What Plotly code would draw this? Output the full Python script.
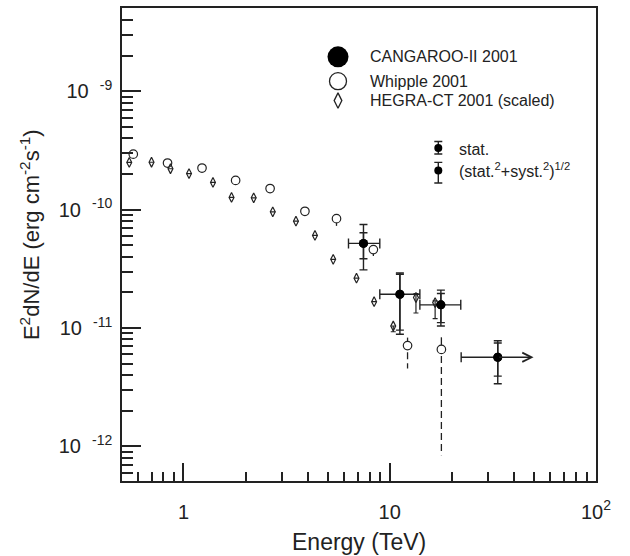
import numpy as np
import plotly.graph_objects as go

# ---------------- data ----------------
# CANGAROO-II 2001
cang_E = [7.46, 11.2, 17.7, 33.4]
cang_F = [5.19e-11, 1.93e-11, 1.57e-11, 5.66e-12]
cang_E_lo = [6.31, 8.95, 14.0, 22.2]
cang_E_hi = [8.95, 14.0, 22.1, 49.8]
cang_open_ended = [False, False, False, True]
cang_stat_hi = [6.38e-11, 2.85e-11, 1.96e-11, 7.48e-12]
cang_stat_lo = [3.85e-11, 9.6e-12, 1.11e-11, 3.92e-12]
cang_tot_hi = [7.50e-11, 2.92e-11, 2.09e-11, 7.81e-12]
cang_tot_lo = [3.10e-11, 8.87e-12, 1.04e-11, 3.38e-12]

# Whipple 2001
whip_E = [0.571, 0.837, 1.23, 1.79, 2.63, 3.88, 5.52, 8.33, 12.2, 17.8]
whip_F = [2.95e-10, 2.48e-10, 2.25e-10, 1.77e-10, 1.51e-10, 9.7e-11, 8.4e-11, 4.6e-11, 7.1e-12, 6.6e-12]
whip_hi = [2.95e-10, 2.48e-10, 2.25e-10, 1.77e-10, 1.51e-10, 9.7e-11, 9.2e-11, 5.0e-11, 8.3e-12, 8.35e-12]
whip_lo = [2.95e-10, 2.48e-10, 2.25e-10, 1.77e-10, 1.51e-10, 9.7e-11, 7.3e-11, 4.06e-11, 4.55e-12, 8.4e-13]
whip_lo_dashed = [False, False, False, False, False, False, False, False, True, True]

# HEGRA-CT 2001 (scaled)
hegra_E = [0.546, 0.700, 0.865, 1.064, 1.39, 1.71, 2.19, 2.71, 3.51, 4.34, 5.32, 6.90, 8.40, 10.4, 13.4, 16.6]
hegra_F = [2.51e-10, 2.52e-10, 2.22e-10, 2.02e-10, 1.70e-10, 1.27e-10, 1.26e-10, 9.6e-11, 8.0e-11,
           6.06e-11, 3.81e-11, 2.64e-11, 1.67e-11, 1.04e-11, 1.81e-11, 1.64e-11]
hegra_hi = list(hegra_F)
hegra_lo = list(hegra_F)
hegra_hi[14] = 1.95e-11
hegra_lo[14] = 1.34e-11
hegra_hi[15] = 1.70e-11
hegra_lo[15] = 1.20e-11
hegra_lo[13] = 0.93e-11

# axis ticks
x_tickvals = [1, 10, 100]
x_ticktext = ["1", "10", "10<sup>2</sup>"]
y_tickvals = [1e-12, 1e-11, 1e-10, 1e-9]
y_ticktext = ["10  <sup>-12</sup>", "10  <sup>-11</sup>", "10  <sup>-10</sup>", "10  <sup>-9</sup>"]

legend_labels = ["CANGAROO-II 2001", "Whipple 2001", "HEGRA-CT 2001 (scaled)"]
err_labels = ["stat.", "(stat.<sup>2</sup>+syst.<sup>2</sup>)<sup>1/2</sup>"]

# ---------------- styles ----------------
INK = "#222222"
FONT = "Liberation Sans, Arial, sans-serif"

def arr(a):
    return np.array(a, dtype=float)

def err_or_none(d):
    return [v if v > 0 else None for v in d]

fig = go.Figure()

# Whipple dashed lower error lines
for e, f, lo, dashed in zip(whip_E, whip_F, whip_lo, whip_lo_dashed):
    if dashed:
        fig.add_trace(go.Scatter(x=[e, e], y=[f * 0.88, lo], mode="lines",
                                 line=dict(color=INK, width=1.3, dash="7px,4px"),
                                 showlegend=False, hoverinfo="skip"))

# Whipple solid error bars + markers
wF = arr(whip_F)
w_plus = arr(whip_hi) - wF
w_minus = np.where(whip_lo_dashed, 0.0, wF - arr(whip_lo))
fig.add_trace(go.Scatter(
    x=whip_E, y=whip_F, mode="markers",
    marker=dict(symbol="circle", size=8.5, color="white", line=dict(color=INK, width=1.2)),
    error_y=dict(type="data", symmetric=False, array=err_or_none(w_plus),
                 arrayminus=err_or_none(w_minus), color=INK, thickness=1.3, width=0),
    showlegend=False))

# HEGRA diamonds
hF = arr(hegra_F)
fig.add_trace(go.Scatter(
    x=hegra_E, y=hegra_F, mode="markers",
    marker=dict(symbol="diamond-tall-open", size=7, color=INK, line=dict(color=INK, width=1.2)),
    error_y=dict(type="data", symmetric=False, array=err_or_none(arr(hegra_hi) - hF),
                 arrayminus=err_or_none(hF - arr(hegra_lo)), color=INK, thickness=1.2, width=2.5),
    showlegend=False))

# CANGAROO: total errors (with energy bins)
cE = arr(cang_E)
cF = arr(cang_F)
ex_plus = np.where(cang_open_ended, 0.0, arr(cang_E_hi) - cE)
ex_minus = cE - arr(cang_E_lo)
fig.add_trace(go.Scatter(
    x=cang_E, y=cang_F, mode="markers",
    marker=dict(symbol="circle", size=9, color="black"),
    error_y=dict(type="data", symmetric=False, array=arr(cang_tot_hi) - cF,
                 arrayminus=cF - arr(cang_tot_lo), color=INK, thickness=1.4, width=4),
    error_x=dict(type="data", symmetric=False, array=err_or_none(ex_plus),
                 arrayminus=ex_minus, color=INK, thickness=1.4, width=5),
    showlegend=False))
# CANGAROO: statistical errors
fig.add_trace(go.Scatter(
    x=cang_E, y=cang_F, mode="markers",
    marker=dict(symbol="circle", size=9, color="black"),
    error_y=dict(type="data", symmetric=False, array=arr(cang_stat_hi) - cF,
                 arrayminus=cF - arr(cang_stat_lo), color=INK, thickness=1.4, width=4),
    showlegend=False))

annotations = []
# open-ended energy bin -> arrow
for e, f, ehi, oe in zip(cang_E, cang_F, cang_E_hi, cang_open_ended):
    if oe:
        annotations.append(dict(x=np.log10(ehi), y=np.log10(f), ax=np.log10(e), ay=np.log10(f),
                                xref="x", yref="y", axref="x", ayref="y", text="",
                                showarrow=True, arrowhead=5, arrowsize=1.3, arrowwidth=1.4,
                                arrowcolor=INK, standoff=0, startstandoff=0))

# ---------------- legend (drawn on a hidden overlay axis in plot-fraction units) ----------------
leg_x = 0.4557
leg_y = [0.8968, 0.8453, 0.8042]
leg_text_x = 0.519
fig.add_trace(go.Scatter(x=[leg_x], y=[leg_y[0]], xaxis="x2", yaxis="y2", mode="markers",
                         marker=dict(symbol="circle", size=21, color="black"), showlegend=False))
fig.add_trace(go.Scatter(x=[leg_x], y=[leg_y[1]], xaxis="x2", yaxis="y2", mode="markers",
                         marker=dict(symbol="circle", size=17, color="white", line=dict(color=INK, width=1.3)),
                         showlegend=False))
fig.add_trace(go.Scatter(x=[leg_x], y=[leg_y[2]], xaxis="x2", yaxis="y2", mode="markers",
                         marker=dict(symbol="diamond-tall-open", size=11, color=INK, line=dict(width=1.3)),
                         showlegend=False))
for yy, txt in zip(leg_y, legend_labels):
    annotations.append(dict(x=leg_text_x, y=yy, xref="paper", yref="paper", text=txt, showarrow=False,
                            xanchor="left", yanchor="middle", font=dict(family=FONT, size=16, color=INK)))

err_x = 0.6673
err_y = [0.7038, 0.6562]
err_plus = [0.0141, 0.0175]
err_minus = [0.0126, 0.0261]
err_text_x = 0.7068
err_text_y = [0.700, 0.657]
fig.add_trace(go.Scatter(x=[err_x, err_x], y=err_y, xaxis="x2", yaxis="y2", mode="markers",
                         marker=dict(symbol="circle", size=8, color="black"),
                         error_y=dict(type="data", symmetric=False, array=err_plus, arrayminus=err_minus,
                                      color=INK, thickness=1.4, width=4),
                         showlegend=False))
for yy, txt in zip(err_text_y, err_labels):
    annotations.append(dict(x=err_text_x, y=yy, xref="paper", yref="paper", text=txt, showarrow=False,
                            xanchor="left", yanchor="middle", font=dict(family=FONT, size=16, color=INK)))

# axis titles
annotations.append(dict(x=0.5, y=-0.1284, xref="paper", yref="paper", text="Energy (TeV)",
                        showarrow=False, xanchor="center", yanchor="middle",
                        font=dict(family=FONT, size=23, color=INK)))
annotations.append(dict(x=-0.194, y=0.52, xref="paper", yref="paper",
                        text="E<sup>2</sup>dN/dE (erg cm<sup>-2</sup>s<sup>-1</sup>)",
                        showarrow=False, xanchor="center", yanchor="middle", textangle=-90,
                        font=dict(family=FONT, size=22, color=INK)))

x_minor = [m * 10.0 ** d for d in range(-1, 2) for m in range(2, 10)]
y_minor = [m * 10.0 ** d for d in range(-13, -8) for m in range(2, 10)]

axis_common = dict(type="log", showline=True, linecolor=INK, linewidth=1.5, mirror=True,
                   ticks="inside", tickwidth=1.5, tickcolor=INK, tickmode="array",
                   showgrid=False, zeroline=False,
                   tickfont=dict(family=FONT, size=20, color=INK))

fig.update_layout(
    width=630, height=556,
    margin=dict(l=122, r=34, t=6, b=75),
    paper_bgcolor="white", plot_bgcolor="white",
    font=dict(family=FONT, color=INK),
    xaxis=dict(axis_common, range=[-0.298, 2.0], tickvals=x_tickvals, ticktext=x_ticktext,
               ticklen=18, ticklabelstandoff=12,
               minor=dict(ticks="inside", ticklen=9, tickwidth=1.5, tickcolor=INK,
                          tickmode="array", tickvals=x_minor, showgrid=False)),
    yaxis=dict(axis_common, range=[-12.293, -8.295], tickvals=y_tickvals, ticktext=y_ticktext,
               ticklen=19, ticklabelstandoff=4,
               minor=dict(ticks="inside", ticklen=11, tickwidth=1.5, tickcolor=INK,
                          tickmode="array", tickvals=y_minor, showgrid=False)),
    xaxis2=dict(range=[0, 1], overlaying="x", visible=False, fixedrange=True),
    yaxis2=dict(range=[0, 1], overlaying="y", visible=False, fixedrange=True),
    annotations=annotations,
    showlegend=False,
)

fig.write_html("out.html")
